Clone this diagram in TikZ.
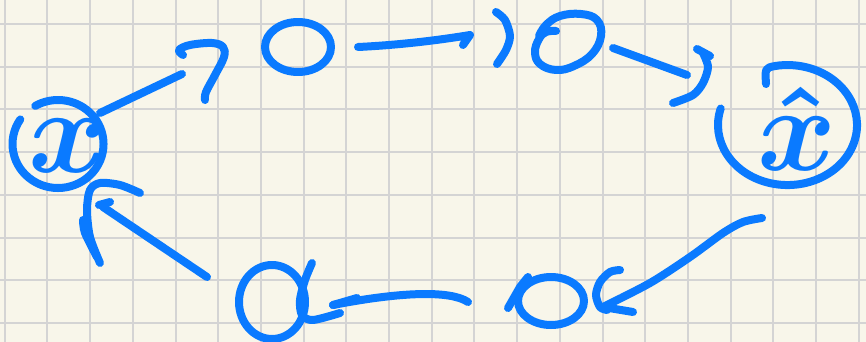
\documentclass[tikz,border=0pt]{standalone}
\usepackage{graphicx}
\usepackage{bm}
\definecolor{paper}{RGB}{248,246,234}
\definecolor{gridc}{RGB}{212,212,212}
\definecolor{inkblue}{RGB}{10,122,255}
\tikzset{
  ink/.style={draw=inkblue, line width=8pt, line cap=round, line join=round},
  gridline/.style={draw=gridc, line width=2pt},
  glyph/.style={text=inkblue, inner sep=0pt, anchor=base}
}
\begin{document}
\begin{tikzpicture}[x=1pt,y=-1pt]
\useasboundingbox (0,0) rectangle (866,342);
\fill[paper] (0,0) rectangle (866,342);
\begin{scope}
\clip (0,0) rectangle (866,342);
\foreach \i in {0,...,20} \draw[gridline] ({4.7+42.7*\i},0) -- ({4.7+42.7*\i},342);
\foreach \j in {0,...,7} \draw[gridline] (0,{24+42.7*\j}) -- (866,{24+42.7*\j});

% left circled x
\coordinate (lc) at (58,144);
\draw[ink] (20.3,119.4) arc[start angle=214, end angle=-120, x radius=45.5, y radius=44];
\node[glyph] (lx) at (68,172) {\scalebox{12}{$\bm{x}$}};

% right circled x-hat
\coordinate (rc) at (787.5,125);
\draw[ink] (720.7,108.5) arc[start angle=196, end angle=-100, x radius=69.5, y radius=60]
  .. controls (765,68) .. (766,84);
\node[glyph] (rx) at (797,170) {\scalebox{12}{$\bm{\hat{x}}$}};

% arrow from x to "7"
\coordinate (a1s) at (100,113);
\coordinate (a1e) at (182,74);
\draw[ink] (a1s) -- (a1e);
% "7"
\draw[ink] plot[smooth, tension=0.6] coordinates {(183,55) (179,50) (190,45) (212,43) (223,47) (224,57) (215,75) (206,92) (205,100)};
% first O
\draw[ink] (298,47) ellipse[x radius=33, y radius=25];
% arrow O -> )
\coordinate (a2s) at (358,47);
\coordinate (a2e) at (470,35);
\draw[ink] (a2s) .. controls (400,45) and (440,40) .. (a2e) -- (463,45);
% ")"
\draw[ink] plot[smooth] coordinates {(496,12) (505,20) (510,36) (506,50) (497,64)};
% second O
\draw[ink] plot[smooth, tension=0.7] coordinates {(556,31) (546,32) (539,39) (535,52) (540,64) (556,70) (574,66) (592,54) (601,36) (597,20) (581,14) (560,16) (546,25) (539,36)};
% arrow to hook
\coordinate (a3s) at (613,48);
\coordinate (a3e) at (687,75);
\draw[ink] (a3s) -- (a3e);
\draw[ink] (697,49) -- (710,56);
\draw[ink] plot[smooth] coordinates {(703,53) (708,67) (703,83) (693,95) (673,103)};

% long arrow from x-hat down to "oc"
\coordinate (a4s) at (762,218);
\coordinate (a4e) at (603,307);
\draw[ink] plot[smooth] coordinates {(762,218) (743,222) (723,233) (690,257) (650,283) (603,307)};
\draw[ink] (a4e) -- (633,312);
% "c"
\draw[ink] plot[smooth] coordinates {(620,270) (610,272) (600,282) (596,295) (600,307) (607,310)};
% "o"
\draw[ink] (551,301) ellipse[x radius=33, y radius=24];
\draw[ink] (528,277) -- (520,287) -- (508,308);

% arrow from "oc" to alpha
\coordinate (a5s) at (468,302);
\coordinate (a5e) at (333,305);
\draw[ink] (a5s) .. controls (450,290) and (400,292) .. (a5e);
\draw[ink] (357,298) -- (a5e);
% alpha
\draw[ink] (272,302) ellipse[x radius=33, y radius=37];
\draw[ink] plot[smooth] coordinates {(312,263) (305,280) (300,300) (302,315) (313,320) (340,313)};

% arrow from alpha back to x
\coordinate (a6s) at (207,277);
\coordinate (a6e) at (103,207);
\draw[ink] (a6s) -- (a6e);
\draw[ink] (110,202) -- (99,205);
\draw[ink] plot[smooth] coordinates {(140,193) (120,185) (100,183) (90,190) (87,210) (90,237) (100,263)};
\draw[ink] plot[smooth] coordinates {(83,220) (85,233) (97,257)};
\end{scope}
\end{tikzpicture}
\end{document}
